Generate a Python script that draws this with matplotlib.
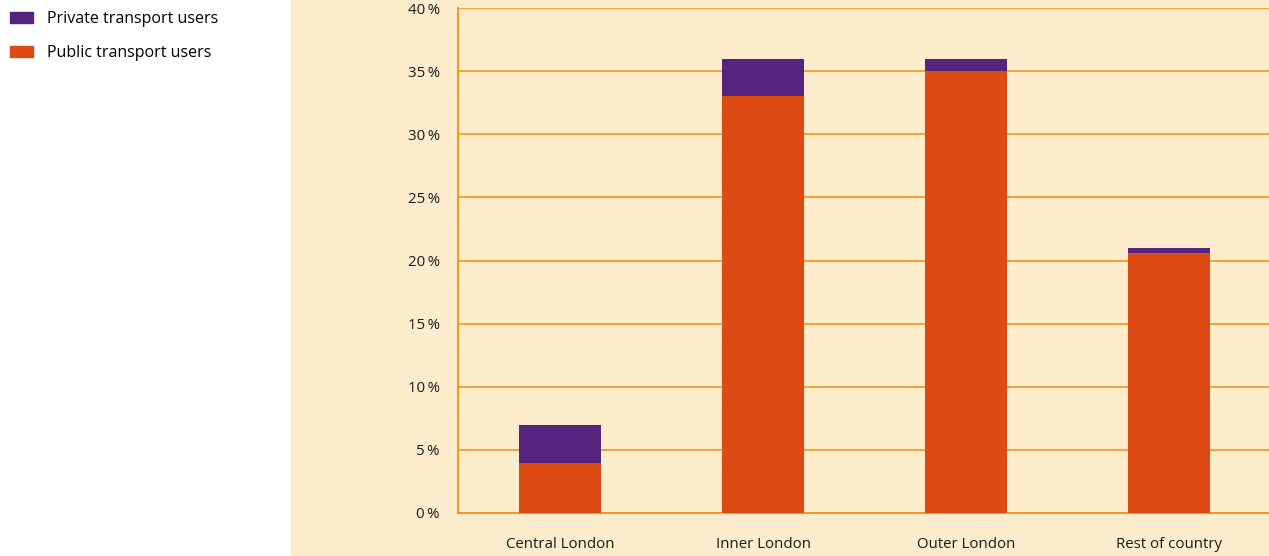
import matplotlib.pyplot as plt
from matplotlib.patches import Rectangle, Patch

# Share of commuters, by area
areas = ['Central London', 'Inner London', 'Outer London', 'Rest of country']
public_users = [4.0, 33.0, 35.0, 20.6]
private_users = [3.0, 3.0, 1.0, 0.4]
yticks = [0, 5, 10, 15, 20, 25, 30, 35, 40]
ytick_labels = ['%d\u2009%%' % v for v in yticks]

purple = '#55247f'
orange = '#dd4a14'
grid_col = '#f5961e'
cream = '#fdedcc'

plt.rcParams['font.family'] = ['Open Sans', 'DejaVu Sans']

fig = plt.figure(figsize=(12.69, 5.56), dpi=100)
fig.patches.append(Rectangle((291 / 1269, 0), 1 - 291 / 1269, 1,
                             transform=fig.transFigure, color=cream, zorder=-10))

ax = fig.add_axes([458 / 1269, 1 - 513 / 556, 1 - 458 / 1269, (513 - 8) / 556])
ax.set_zorder(1)
ax.set_facecolor(cream)
x = range(len(areas))
ax.bar(x, public_users, width=0.404, color=orange, zorder=3)
ax.bar(x, private_users, width=0.404, bottom=public_users, color=purple, zorder=3)

ax.set_xlim(-0.505, 3.495)
ax.set_ylim(0, 40)
ax.set_yticks(yticks)
ax.set_yticklabels(ytick_labels)
ax.set_xticks(list(x))
ax.set_xticklabels(areas)
ax.tick_params(axis='both', length=0, labelsize=10.8, colors='#1a1a1a')
ax.tick_params(axis='y', pad=13)
ax.tick_params(axis='x', pad=17)
ax.grid(axis='y', color=grid_col, linewidth=1.2, zorder=1)
for side in ['right', 'top']:
    ax.spines[side].set_visible(False)
for side in ['left', 'bottom']:
    ax.spines[side].set_color(grid_col)
    ax.spines[side].set_linewidth(1.4)

handles = [Patch(color=purple, label='Private transport users'),
           Patch(color=orange, label='Public transport users')]
fig.legend(handles=handles, loc='upper left', bbox_to_anchor=(10 / 1269, 1 - 11 / 556),
           frameon=False, fontsize=11.5, handlelength=1.45, handleheight=0.7,
           handletextpad=0.85, labelspacing=1.15, borderpad=0, borderaxespad=0)

fig.savefig('out.png', dpi=100, facecolor='white')
